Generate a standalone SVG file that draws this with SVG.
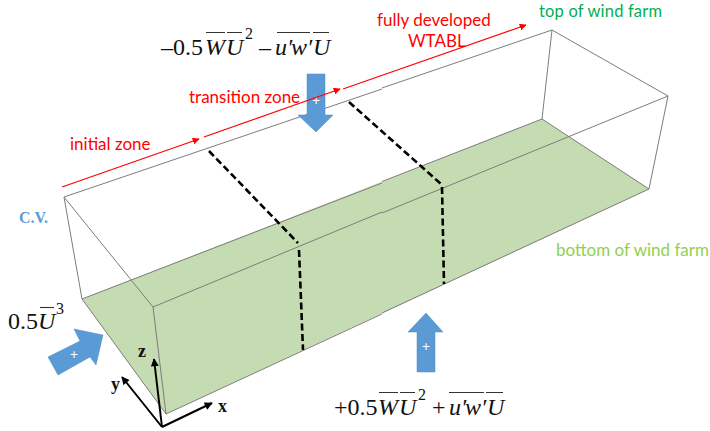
<svg xmlns="http://www.w3.org/2000/svg" width="710" height="431" viewBox="0 0 710 431">
<style>
.edge{fill:none;stroke:#7c7c7c;stroke-width:1}
.dash{fill:none;stroke:#000;stroke-width:2.6;stroke-dasharray:7 3.5}
.red{fill:none;stroke:#f00;stroke-width:1.2;marker-end:url(#ra)}
.axis{fill:none;stroke:#000;stroke-width:2;marker-end:url(#ka)}
.flux{fill:#5b9bd5;stroke:#4a8ac4;stroke-width:.5}
.plus{font:14px "Lato",sans-serif;fill:#fff;text-anchor:middle}
.lab{font-family:"Lato","Open Sans",sans-serif;font-size:17px}
.red-t{fill:#f00}
.m{font-family:"Liberation Serif","Times New Roman",serif;font-size:24px;fill:#111}
.i{font-style:italic}
.s{font-family:"Liberation Serif","Times New Roman",serif;font-size:16px;fill:#111}
.bar{stroke:#333;stroke-width:1.1}
.ax{font-family:"Liberation Serif",serif;font-weight:bold;font-size:18px;fill:#111}
</style>
<defs>
<marker id="ra" viewBox="0 0 10 10" refX="9" refY="5" markerWidth="7" markerHeight="7" markerUnits="userSpaceOnUse" orient="auto"><path d="M0 0L10 5L0 10Z" fill="#f00"/></marker>
<marker id="ka" viewBox="0 0 10 10" refX="9" refY="5" markerWidth="9" markerHeight="8" markerUnits="userSpaceOnUse" orient="auto"><path d="M0 0L10 5L0 10Z" fill="#000"/></marker>
</defs>
<g id="bottom-plane"><polygon points="82,299 542,119 649,189 166,414" fill="#c5dcb3"/></g>
<g id="connectors">
<path class="edge" d="M64,197L382,89M382,88L552,30L668,96L382,213M382,212L153,307"/>
<path class="edge" d="M82,299L382,183M382,181.500L542,119L649,189L382,313M382,314L166,414"/>
<path class="edge" d="M64,197L153,307M82,299L166,414"/>
<path class="edge" d="M64,197L82,299M552,30L542,119M668,96L649,189M153,307L166,414"/>
<path class="dash" d="M209,151L298,243M299,250L303,350M349,102L441,184M442,187L444,284"/>
<path class="axis" d="M162,427L154,359"/>
<path class="axis" d="M162,427L122,377"/>
<path class="axis" d="M162,427L212,403"/>
</g>
<g id="flux-top"><polygon class="flux" points="307,74 325,74 325,115 333,115 316,132 298,115 307,115"/><text class="plus" x="316" y="105">+</text></g>
<g id="flux-bottom"><polygon class="flux" points="417,372 435,372 435,332 443,332 426,313 408,332 417,332"/><text class="plus" x="426" y="351">+</text></g>
<g id="flux-inlet"><polygon class="flux" points="48,357 58,375 90,357 96,365 103,335 74,329 80,341"/><text class="plus" x="74" y="359">+</text></g>
<g id="red-arrows">
<path class="red" d="M62,187L199,139"/>
<path class="red" d="M204,137L340,89"/>
<path class="red" d="M343,89L526,25"/>
</g>
<g id="labels">
<text class="lab red-t" x="70" y="150">initial zone</text>
<text class="lab red-t" x="189" y="103">transition zone</text>
<text class="lab red-t" x="377" y="26">fully developed</text>
<text class="lab red-t" x="408" y="47">WTABL</text>
<text class="lab" x="539" y="16.500" style="font-size:16.500px" textLength="123" fill="#00b050">top of wind farm</text>
<text class="lab" x="556" y="256" fill="#92d050">bottom of wind farm</text>
<text x="19" y="223" font-family="Liberation Serif,serif" font-weight="bold" font-size="16" fill="#5b9bd5">C.V.</text>
</g>
<g id="axes-labels">
<text class="ax" x="138" y="357">z</text>
<text class="ax" x="111" y="390">y</text>
<text class="ax" x="218" y="412">x</text>
</g>
<g id="eq-top">
<text class="m" x="161" y="55">–0.5</text>
<text class="m i" x="205" y="55">W</text><text class="m i" x="226" y="55">U</text>
<text class="s" x="245" y="39">2</text>
<text class="m" x="259" y="55">–</text>
<text class="m i" x="275" y="55">u′</text><text class="m i" x="291" y="55">w′</text><text class="m i" x="313" y="55">U</text>
<path class="bar" d="M206,32.500H225M227,32.500H242M277,32.500H310M313,32.500H329"/>
</g>
<g id="eq-bottom">
<text class="m" x="334" y="415">+0.5</text>
<text class="m i" x="378" y="415">W</text><text class="m i" x="399" y="415">U</text>
<text class="s" x="418" y="400">2</text>
<text class="m" x="432" y="415">+</text>
<text class="m i" x="449" y="415">u′</text><text class="m i" x="465" y="415">w′</text><text class="m i" x="487" y="415">U</text>
<path class="bar" d="M379,392.500H398M400,392.500H415M449,392.500H484M486,392.500H503"/>
</g>
<g id="eq-inlet">
<text class="m" x="8" y="329">0.5</text>
<text class="m i" x="38" y="329">U</text>
<text class="s" x="56" y="314">3</text>
<path class="bar" d="M40,307.500H54"/>
</g>
</svg>
